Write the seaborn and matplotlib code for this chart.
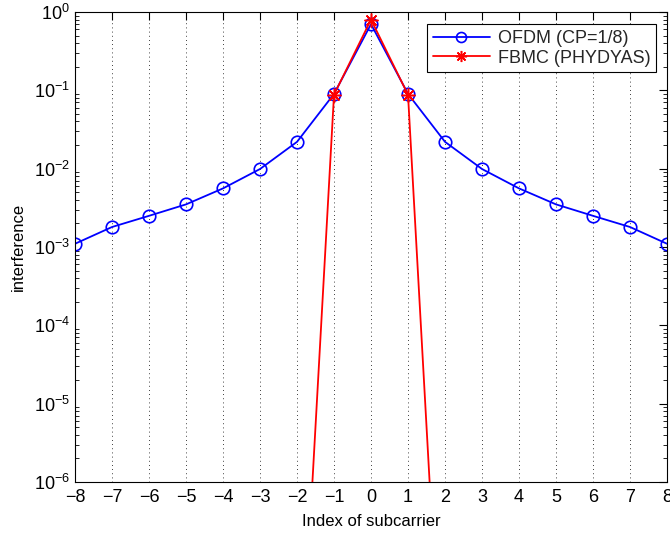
import numpy as np
import pandas as pd
import matplotlib
matplotlib.use("Agg")
import matplotlib.pyplot as plt
import seaborn as sns
from matplotlib.ticker import LogLocator, FixedLocator, NullFormatter

subcarrier = [-8, -7, -6, -5, -4, -3, -2, -1, 0, 1, 2, 3, 4, 5, 6, 7, 8]
ofdm = [0.0011, 0.0018, 0.0025, 0.0035, 0.0056, 0.0099, 0.022, 0.09, 0.70,
        0.09, 0.022, 0.0099, 0.0056, 0.0035, 0.0025, 0.0018, 0.0011]
fbmc = [1e-13, 1e-13, 1e-12, 1e-12, 1e-11, 1e-11, 3e-10, 0.088, 0.80,
        0.088, 3e-10, 1e-11, 1e-11, 1e-12, 1e-12, 1e-13, 1e-13]
labels = ["OFDM (CP=1/8)", "FBMC (PHYDYAS)"]

sns.set_theme(style="white")
plt.rcParams['font.family'] = ['Liberation Sans', 'DejaVu Sans']

df = pd.DataFrame({"x": subcarrier * 2,
                   "y": ofdm + fbmc,
                   "s": [labels[0]] * len(ofdm) + [labels[1]] * len(fbmc)})

fig = plt.figure(figsize=(6.7, 5.33), dpi=100)
ax = fig.add_axes([0.112, 0.0957, 0.8835, 0.8818])

sns.lineplot(data=df[df.s == labels[0]], x="x", y="y", ax=ax, color="#0000ff",
             marker="o", markersize=9, markerfacecolor="none", markeredgecolor="#0000ff",
             markeredgewidth=1.2, linewidth=1.3, label=labels[0])
sns.lineplot(data=df[df.s == labels[1]], x="x", y="y", ax=ax, color="#ff0000",
             marker=(8, 2, 0), markersize=10, markerfacecolor="#ff0000", markeredgecolor="#ff0000",
             markeredgewidth=1.1, linewidth=1.3, label=labels[1])

ax.set_yscale("log")
ax.set_xlim(-8, 8)
ax.set_ylim(1e-6, 1)
ax.xaxis.set_major_locator(FixedLocator(subcarrier))
ax.yaxis.set_major_locator(LogLocator(base=10, numticks=10))
ax.yaxis.set_minor_locator(LogLocator(base=10, subs=np.arange(2, 10), numticks=20))
ax.yaxis.set_minor_formatter(NullFormatter())
ax.set_xticklabels([str(v).replace("-", "\u2212") for v in subcarrier])

ax.grid(axis="x", linestyle=(0, (1, 4)), color="black", linewidth=0.6)
ax.grid(axis="y", visible=False)
for s in ax.spines.values():
    s.set_color("black")
    s.set_linewidth(0.8)
ax.tick_params(which="both", direction="in", top=True, right=True, colors="black",
               labelsize=13)
ax.tick_params(which="major", length=6, width=0.8)
ax.tick_params(axis="x", which="major", pad=5)
ax.tick_params(which="minor", length=3, width=0.6, left=True, right=True)
ax.set_xlabel("Index of subcarrier", fontsize=12, color="black", labelpad=6)
ax.set_ylabel("interference", fontsize=12, color="black", labelpad=6)

leg = ax.legend(loc="upper right", fontsize=13, frameon=True, fancybox=False,
                edgecolor="black", framealpha=1, borderpad=0.3, handlelength=3.2,
                handletextpad=0.4, borderaxespad=0.3, markerscale=0.8,
                labelspacing=0.15, bbox_to_anchor=(0.99, 0.985))
leg.get_frame().set_linewidth(0.8)

fig.savefig("out.png", dpi=100)
